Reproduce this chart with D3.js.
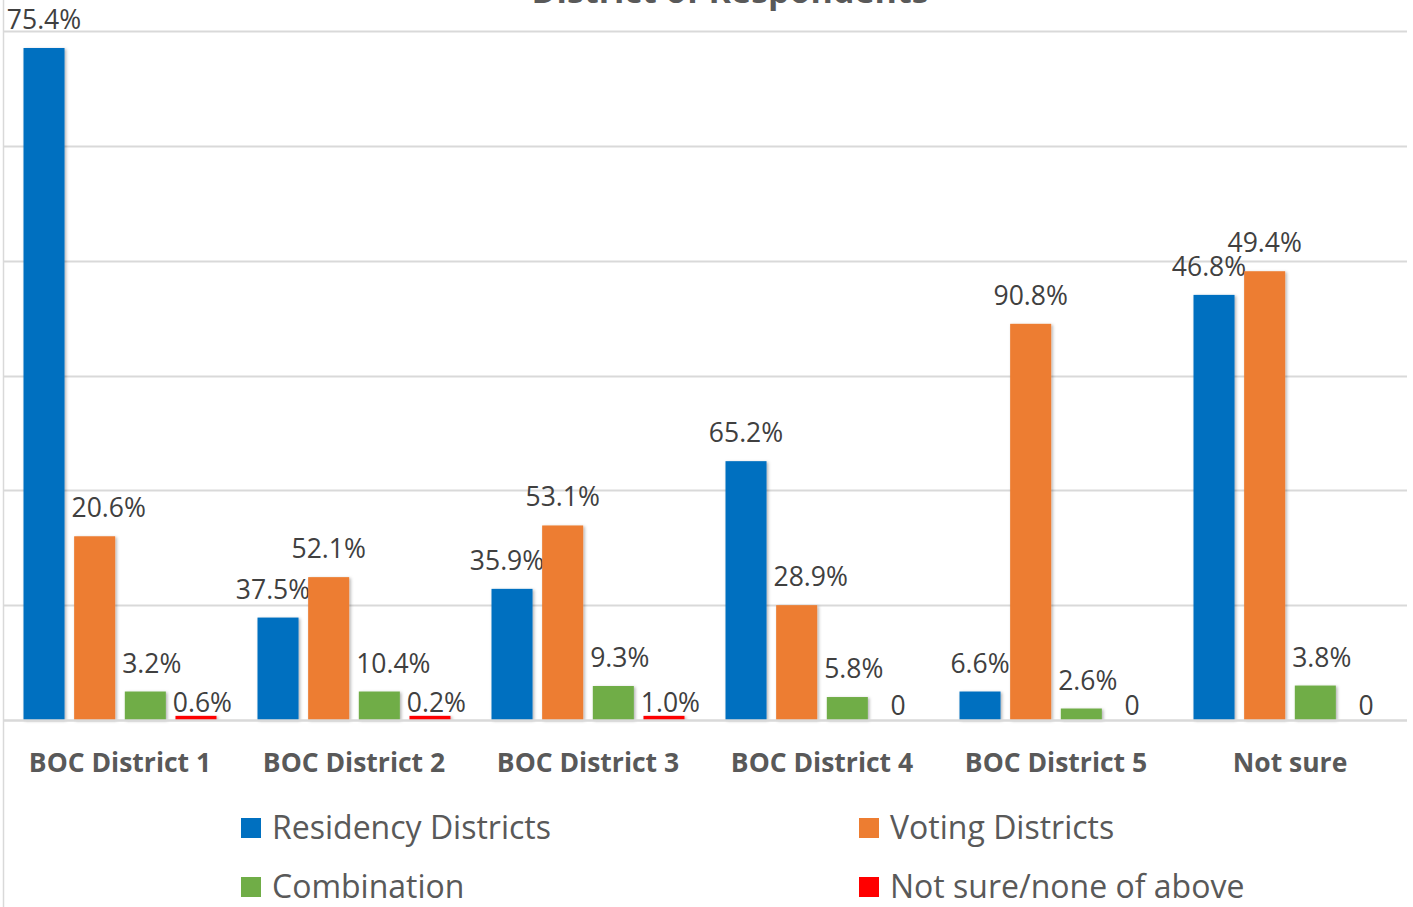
<!DOCTYPE html>
<html>
<head>
<meta charset="utf-8">
<script src="https://cdn.jsdelivr.net/npm/d3@7"></script>
<style>
  body { margin: 0; background: #fff; }
  svg { display: block; font-family: "Open Sans", sans-serif; }
</style>
</head>
<body>
<script>
// ____________ data
var categories = ["BOC District 1", "BOC District 2", "BOC District 3", "BOC District 4", "BOC District 5", "Not sure"]
var seriesNames = ["Residency Districts", "Voting Districts", "Combination", "Not sure/none of above"]
var seriesColors = ["#0070c0", "#ed7d31", "#70ad47", "#ff0000"]

// bar heights (respondent counts)
var residencyCounts   = [292.6, 44.6, 57.1, 112.7, 12.4, 185.1]
var votingCounts      = [80.0, 62.2, 84.7, 50.0, 172.5, 195.4]
var combinationCounts = [12.4, 12.4, 14.8, 10.0, 5.0, 15.0]
var notSureCounts     = [1.8, 1.8, 1.8, 0, 0, 0]

// data labels (percent of district)
var residencyLabels   = ["75.4%", "37.5%", "35.9%", "65.2%", "6.6%", "46.8%"]
var votingLabels      = ["20.6%", "52.1%", "53.1%", "28.9%", "90.8%", "49.4%"]
var combinationLabels = ["3.2%", "10.4%", "9.3%", "5.8%", "2.6%", "3.8%"]
var notSureLabels     = ["0.6%", "0.2%", "1.0%", "0", "0", "0"]

var yTicks = [0, 50, 100, 150, 200, 250, 300]

var counts = [residencyCounts, votingCounts, combinationCounts, notSureCounts]
var labels = [residencyLabels, votingLabels, combinationLabels, notSureLabels]

var rows = []
categories.forEach(function (c, i) {
  seriesNames.forEach(function (s, j) {
    rows.push({ cat: c, catIndex: i, series: j, value: counts[j][i], label: labels[j][i] })
  })
})

// ____________ layout
var width = 1413, height = 907

var svg = d3.select("body").append("svg")
  .attr("width", width)
  .attr("height", height)

var defs = svg.append("defs")
defs.append("filter")
    .attr("id", "shadow")
    .attr("x", "-20%").attr("y", "-20%").attr("width", "140%").attr("height", "140%")
  .append("feDropShadow")
    .attr("dx", 1.5).attr("dy", 1)
    .attr("stdDeviation", 1.5)
    .attr("flood-color", "#000")
    .attr("flood-opacity", 0.3)

var x0 = d3.scaleBand()
  .domain(categories)
  .range([3, 1407])

var x1 = d3.scaleBand()
  .domain(d3.range(seriesNames.length))
  .range([20.5, 213.5])
  .paddingInner(0.19)

var y = d3.scaleLinear()
  .domain([0, 300])
  .range([720, 31])

// title (clipped off the top in the reference)
svg.append("text")
  .attr("x", 730)
  .attr("y", 2.5)
  .attr("text-anchor", "middle")
  .style("font-size", "34px")
  .style("font-weight", "bold")
  .style("fill", "#595959")
  .text("District of Respondents")

// gridlines
svg.append("g")
  .selectAll("line")
  .data(yTicks.slice(1))
  .enter()
  .append("line")
    .attr("x1", 3).attr("x2", 1407)
    .attr("y1", function (d) { return Math.round(y(d)) + 0.5 })
    .attr("y2", function (d) { return Math.round(y(d)) + 0.5 })
    .style("stroke", "#d9d9d9")
    .style("stroke-width", 2)

// left border
svg.append("line")
  .attr("x1", 3.5).attr("x2", 3.5)
  .attr("y1", 0).attr("y2", height)
  .style("stroke", "#d9d9d9")
  .style("stroke-width", 1.5)

// bars
var groups = svg.append("g")
  .selectAll("g.bar")
  .data(rows)
  .enter()
  .append("g")
    .classed("bar", true)
    .attr("transform", function (d) { return "translate(" + x0(d.cat) + ",0)" })

groups.filter(function (d) { return d.value > 0 })
  .append("rect")
    .attr("x", function (d) { return x1(d.series) })
    .attr("y", function (d) { return y(d.value) })
    .attr("width", x1.bandwidth())
    .attr("height", function (d) { return y(0) - y(d.value) })
    .style("fill", function (d) { return seriesColors[d.series] })
    .attr("filter", "url(#shadow)")

// baseline
svg.append("line")
  .attr("x1", 3).attr("x2", 1407)
  .attr("y1", 720.5).attr("y2", 720.5)
  .style("stroke", "#d9d9d9")
  .style("stroke-width", 2.5)

// data labels, nudged sideways off neighbouring bars
function labelY(d) {
  if (d.series == 3) return d.value > 0 ? y(0) - 8 : y(0) - 5
  return y(d.value) - 19
}

groups.append("text")
  .attr("x", function (d) { return x1(d.series) + x1.bandwidth() / 2 })
  .attr("y", labelY)
  .attr("text-anchor", "middle")
  .style("font-size", "26.5px")
  .style("fill", "#404040")
  .text(function (d) { return d.label })
  .each(function (d) {
    var w = this.getComputedTextLength()
    var cx = x1(d.series) + x1.bandwidth() / 2
    var bottom = labelY(d) + 2
    var prev = d.series > 0 ? counts[d.series - 1][d.catIndex] : 0
    var next = d.series < 3 ? counts[d.series + 1][d.catIndex] : 0
    if (d.series > 0 && y(prev) < bottom) {
      var prevRight = x1(d.series - 1) + x1.bandwidth()
      if (cx - w / 2 < prevRight + 7) cx = prevRight + 7 + w / 2
    } else if (d.series < 3 && y(next) < bottom) {
      var nextLeft = x1(d.series + 1)
      if (cx + w / 2 > nextLeft + 2) cx = nextLeft + 2 - w / 2
    }
    d3.select(this).attr("x", cx)
  })

// category axis labels
svg.append("g")
  .selectAll("text")
  .data(categories)
  .enter()
  .append("text")
    .attr("x", function (d) { return x0(d) + x0.bandwidth() / 2 })
    .attr("y", 772)
    .attr("text-anchor", "middle")
    .style("font-size", "26.5px")
    .style("font-weight", "bold")
    .style("fill", "#595959")
    .text(function (d) { return d })

// legend
var legendPos = [[241, 828], [859, 828], [241, 887], [859, 887]]
var legend = svg.append("g")
  .selectAll("g.legend")
  .data(seriesNames)
  .enter()
  .append("g")
    .classed("legend", true)
    .attr("transform", function (d, i) { return "translate(" + legendPos[i][0] + "," + legendPos[i][1] + ")" })

legend.append("rect")
  .attr("x", 0).attr("y", -10)
  .attr("width", 20).attr("height", 20)
  .style("fill", function (d, i) { return seriesColors[i] })

legend.append("text")
  .attr("x", 31)
  .attr("y", 11)
  .style("font-size", "32px")
  .style("fill", "#595959")
  .text(function (d) { return d })
</script>
</body>
</html>
